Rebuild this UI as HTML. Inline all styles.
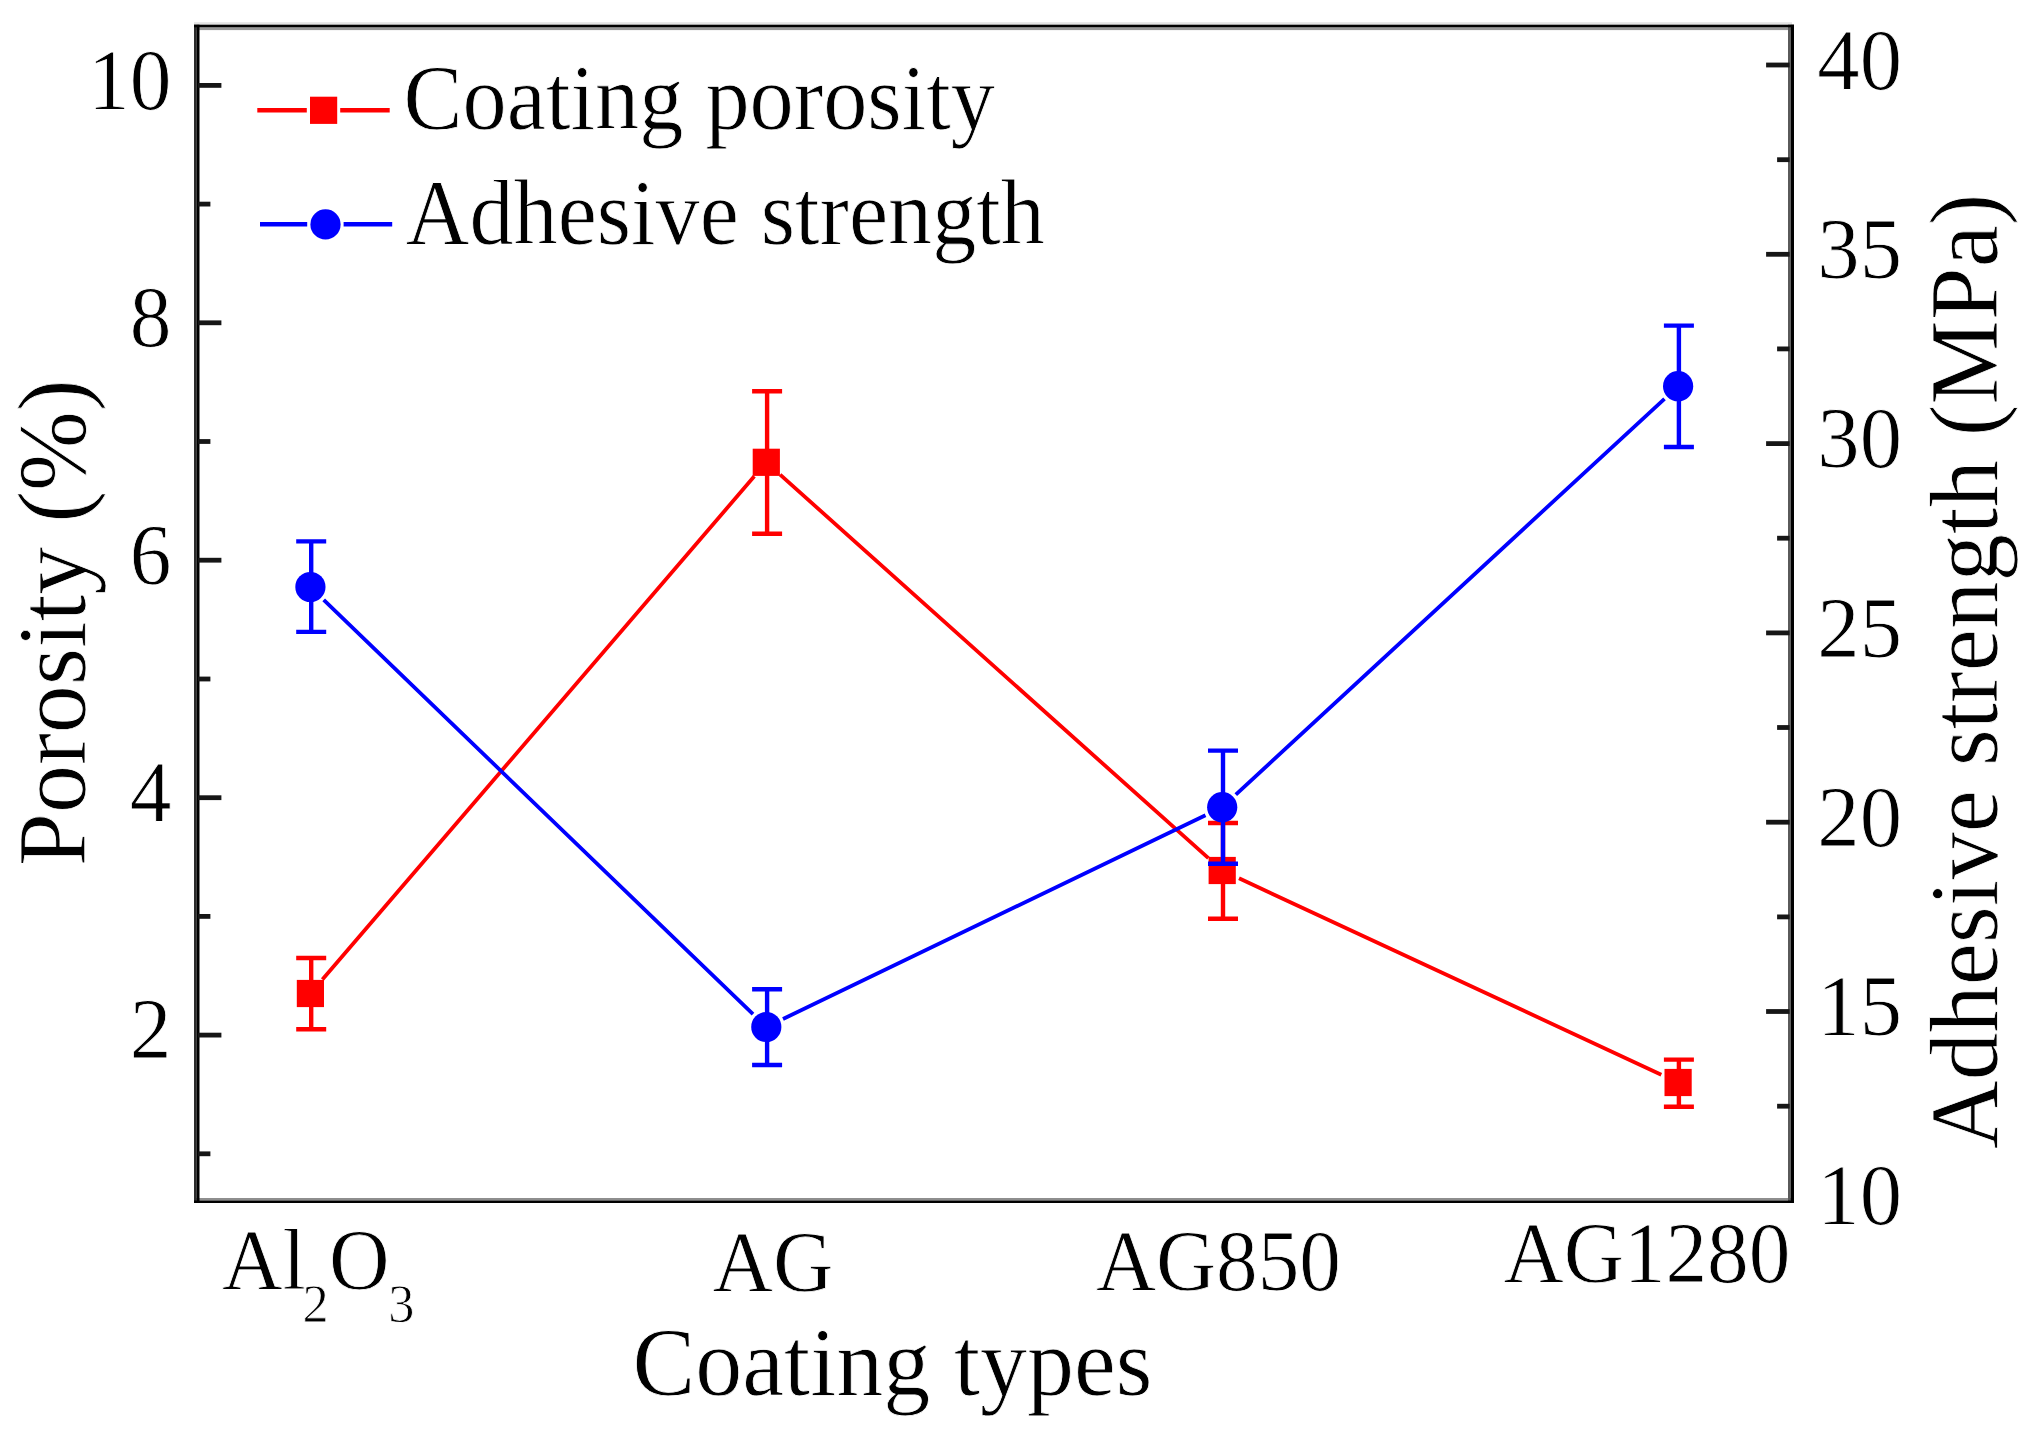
<!DOCTYPE html>
<html lang="en"><head><meta charset="utf-8"><title>Coating porosity and adhesive strength</title>
<style>
html,body{margin:0;padding:0;background:#fff;}
body{width:2033px;height:1437px;overflow:hidden;}
svg{display:block;filter:blur(0.55px);}
text{font-family:"Liberation Serif", "Times New Roman", serif;fill:#000;stroke:#fff;stroke-width:0.8px;paint-order:fill stroke;}
</style></head><body>
<svg width="2033" height="1437" viewBox="0 0 2033 1437">
<rect x="0" y="0" width="2033" height="1437" fill="#fff"/>

<rect x="194.0" y="22.2" width="1598.0" height="2.6" fill="#e4e4e4"/>
<rect x="194.0" y="27.3" width="1600.0" height="2.8" fill="#989898"/>
<rect x="194.0" y="1198.0" width="1600.0" height="2.5" fill="#8e8e8e"/>
<rect x="1788.0" y="24.7" width="2.7" height="1178.3" fill="#5a5a5a"/>
<rect x="194.0" y="24.7" width="2.8" height="1178.3" fill="#2c2c2c"/>
<rect x="194.0" y="24.7" width="1600.0" height="2.6" fill="#000"/>
<rect x="194.0" y="1200.5" width="1600.0" height="2.5" fill="#000"/>
<rect x="1790.7" y="24.7" width="3.3" height="1178.3" fill="#000"/>
<rect x="196.8" y="24.7" width="2.7" height="1178.3" fill="#000"/>
<g stroke="#161616" stroke-width="4.8" fill="none">
<line x1="197.9" y1="1153.8" x2="210.4" y2="1153.8"/>
<line x1="197.9" y1="1035.1" x2="221.4" y2="1035.1"/>
<line x1="197.9" y1="916.4" x2="210.4" y2="916.4"/>
<line x1="197.9" y1="797.7" x2="221.4" y2="797.7"/>
<line x1="197.9" y1="679.0" x2="210.4" y2="679.0"/>
<line x1="197.9" y1="560.2" x2="221.4" y2="560.2"/>
<line x1="197.9" y1="441.5" x2="210.4" y2="441.5"/>
<line x1="197.9" y1="322.8" x2="221.4" y2="322.8"/>
<line x1="197.9" y1="204.1" x2="210.4" y2="204.1"/>
<line x1="197.9" y1="85.4" x2="221.4" y2="85.4"/>
<line x1="1789.6000000000001" y1="65.0" x2="1766.1000000000001" y2="65.0"/>
<line x1="1789.6000000000001" y1="159.7" x2="1777.1000000000001" y2="159.7"/>
<line x1="1789.6000000000001" y1="254.3" x2="1766.1000000000001" y2="254.3"/>
<line x1="1789.6000000000001" y1="348.9" x2="1777.1000000000001" y2="348.9"/>
<line x1="1789.6000000000001" y1="443.6" x2="1766.1000000000001" y2="443.6"/>
<line x1="1789.6000000000001" y1="538.2" x2="1777.1000000000001" y2="538.2"/>
<line x1="1789.6000000000001" y1="632.9" x2="1766.1000000000001" y2="632.9"/>
<line x1="1789.6000000000001" y1="727.5" x2="1777.1000000000001" y2="727.5"/>
<line x1="1789.6000000000001" y1="822.2" x2="1766.1000000000001" y2="822.2"/>
<line x1="1789.6000000000001" y1="916.9" x2="1777.1000000000001" y2="916.9"/>
<line x1="1789.6000000000001" y1="1011.5" x2="1766.1000000000001" y2="1011.5"/>
<line x1="1789.6000000000001" y1="1106.2" x2="1777.1000000000001" y2="1106.2"/>
</g>
<text transform="translate(171.5,108.6) scale(0.97,1)" font-size="86" text-anchor="end">10</text>
<text transform="translate(171.5,346.0) scale(0.97,1)" font-size="86" text-anchor="end">8</text>
<text transform="translate(171.5,583.5) scale(0.97,1)" font-size="86" text-anchor="end">6</text>
<text transform="translate(171.5,820.9) scale(0.97,1)" font-size="86" text-anchor="end">4</text>
<text transform="translate(171.5,1058.3) scale(0.97,1)" font-size="86" text-anchor="end">2</text>
<text transform="translate(1817.3,88.6) scale(0.985,1)" font-size="86">40</text>
<text transform="translate(1817.3,277.9) scale(0.985,1)" font-size="86">35</text>
<text transform="translate(1817.3,467.2) scale(0.985,1)" font-size="86">30</text>
<text transform="translate(1817.3,656.5) scale(0.985,1)" font-size="86">25</text>
<text transform="translate(1817.3,845.8) scale(0.985,1)" font-size="86">20</text>
<text transform="translate(1817.3,1035.1) scale(0.985,1)" font-size="86">15</text>
<text transform="translate(1817.3,1224.4) scale(0.985,1)" font-size="86">10</text>
<text transform="translate(221.9,1288.5) scale(0.97,1)" font-size="86.5">Al<tspan font-size="54" dy="33.2" dx="-3.5">2</tspan><tspan dy="-33.2" dx="0.5">O</tspan><tspan font-size="54" dy="33.2" dx="-1.5">3</tspan></text>
<text transform="translate(712.6,1290.8) scale(0.967,1)" font-size="86.5">AG</text>
<text transform="translate(1095.9,1290) scale(0.962,1)" font-size="86.5">AG850</text>
<text transform="translate(1503.5,1282.3) scale(0.963,1)" font-size="86.5">AG1280</text>
<text transform="translate(632.5,1395.3) scale(0.96,1)" font-size="98">Coating types</text>
<text transform="translate(85.2,866.3) rotate(-90) scale(0.988,1)" font-size="97">Porosity (%)</text>
<text transform="translate(1997.4,1149) rotate(-90) scale(0.98,1)" font-size="97">Adhesive strength (MPa)</text>
<g stroke-width="4.4" fill="none">
<path d="M257.3 110.2H306.8M340.2 110.2H389.7" stroke="#f00"/>
<path d="M260 224.2H307.2M343.6 224.2H392.2" stroke="#00f"/>
</g>
<rect x="310" y="96.7" width="27.2" height="27.2" fill="#f00"/>
<circle cx="325.5" cy="224.4" r="15.1" fill="#00f"/>
<text transform="translate(403.6,129.0) scale(0.955,1)" font-size="92.5">Coating porosity</text>
<text transform="translate(405.8,244.2) scale(0.948,1)" font-size="93">Adhesive strength</text>
<path d="M322.4 979.5L754.3 476.3M780.1 474.6L1208.4 858.2M1239.0 878.3L1661.3 1074.7" stroke="#f00" stroke-width="3.8" fill="none"/>
<path d="M311.2 958.0V1029.2M296.2 958.0H326.2M296.2 1029.2H326.2M767.1 391.3V533.7M752.1 391.3H782.1M752.1 533.7H782.1M1223.0 823.0V918.8M1208.0 823.0H1238.0M1208.0 918.8H1238.0M1678.9 1059.6V1106.7M1663.9 1059.6H1693.9M1663.9 1106.7H1693.9" stroke="#f00" stroke-width="4.4" fill="none"/>
<rect x="296.8" y="979.9" width="27.2" height="27.2" fill="#f00"/>
<rect x="752.7" y="448.7" width="27.2" height="27.2" fill="#f00"/>
<rect x="1208.6" y="856.9" width="27.2" height="27.2" fill="#f00"/>
<rect x="1664.5" y="1068.9" width="27.2" height="27.2" fill="#f00"/>
<path d="M323.7 599.8L753.0 1014.2M783.0 1019.0L1205.5 815.2M1235.8 794.6L1664.5 398.8" stroke="#00f" stroke-width="3.8" fill="none"/>
<path d="M311.2 541.4V631.9M296.2 541.4H326.2M296.2 631.9H326.2M767.1 989.2V1065.0M752.1 989.2H782.1M752.1 1065.0H782.1M1223.0 750.6V863.8M1208.0 750.6H1238.0M1208.0 863.8H1238.0M1678.9 325.6V447.0M1663.9 325.6H1693.9M1663.9 447.0H1693.9" stroke="#00f" stroke-width="4.4" fill="none"/>
<circle cx="310.4" cy="587.0" r="15.1" fill="#00f"/>
<circle cx="766.3" cy="1027.0" r="15.1" fill="#00f"/>
<circle cx="1222.2" cy="807.2" r="15.1" fill="#00f"/>
<circle cx="1678.1" cy="386.2" r="15.1" fill="#00f"/>
</svg></body></html>
